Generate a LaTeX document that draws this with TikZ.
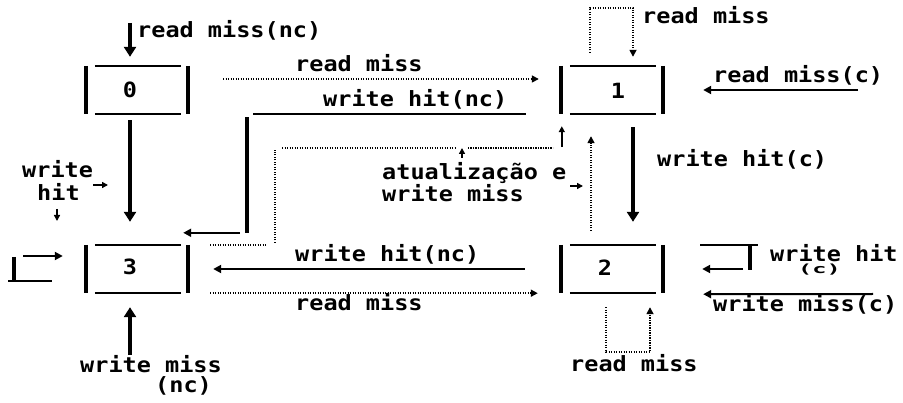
\documentclass[tikz,border=0pt]{standalone}
\usepackage{fontspec}
\newfontfamily\dmono{DejaVu Sans Mono}[FakeStretch=1.12]
\usetikzlibrary{arrows.meta,calc}
\begin{document}
\begin{tikzpicture}[x=1pt,y=-1pt,
 txt/.style={font=\dmono\bfseries\fontsize{21}{25}\selectfont, inner sep=0, anchor=base west},
 num/.style={font=\dmono\bfseries\fontsize{21}{25}\selectfont, inner sep=0},
 state/.style={minimum width=102pt, minimum height=48pt, inner sep=0, draw=none},
 bar/.style={line width=4pt},
 hl/.style={line width=2pt},
 tarrow/.style={line width=4pt, -{Triangle[length=10pt,width=12pt]}},
 narrow/.style={line width=2pt, -{Triangle[length=8pt,width=8pt]}},
 parrow/.style={line width=1.5pt, -{Triangle[length=6pt,width=6pt]}},
 dotl/.style={line width=1.6pt, dash pattern=on 1.2pt off 1.3pt},
 darrow/.style={dotl, -{Triangle[length=7pt,width=7pt]}},
]
\fill[white] (0,0) rectangle (903,403);
\useasboundingbox (0,0) rectangle (903,403);

% states
\node[state] (s0) at (137,90) {};
\node[state] (s1) at (612,90) {};
\node[state] (s3) at (137,269) {};
\node[state] (s2) at (612,269) {};
\foreach \s in {s0,s1,s2,s3}{
  \draw[bar] (\s.north west) -- (\s.south west);
  \draw[bar] (\s.north east) -- (\s.south east);
  \draw[hl] ($(\s.north west)+(9,0)$) -- ($(\s.north east)+(-7,0)$);
  \draw[hl] ($(\s.south west)+(9,0)$) -- ($(\s.south east)+(-7,0)$);
}
\node[num] (n0) at (130,90) {0};
\node[num] (n1) at (618,91) {1};
\node[num] (n3) at (130,267) {3};
\node[num] (n2) at (605,268) {2};

% free ends
\coordinate (inA) at (130,23);
\coordinate (inH) at (858,90);
\coordinate (inN) at (873,294);
\coordinate (inP) at (130,355);

% A: read miss(nc) into 0
\draw[tarrow] (inA) -- ($(s0.north)+(-7,-9)$);
\node[txt] (tA) at (137,38) {read miss(nc)};

% B: 0 -> 1 read miss
\draw[darrow] ($(s0.east)+(35,-11)$) -- ($(s1.west)+(-22,-11)$);
\node[txt] (tB) at (295,72) {read miss};

% C: 1 -> 3 write hit(nc)
\draw[hl] ($(s1.south west)+(-35,0)$) -- ($(s0.south east)+(65,0)$);
\draw[bar] ($(s0.south east)+(59,3)$) -- ($(s3.north east)+(59,-12)$);
\draw[narrow] ($(s3.north east)+(52,-12)$) -- ($(s3.north east)+(-5,-12)$);
\node[txt] (tC) at (323,107) {write hit(nc)};

% D: 3 -> 1 dotted (atualizacao)
\draw[dotl] ($(s3.north east)+(22,0)$) -- ($(s3.north east)+(79,0)$);
\draw[dotl] ($(s3.north east)+(87,-2)$) -- ($(s0.south east)+(87,36)$);
\draw[dotl] ($(s0.south east)+(94,34)$) -- ($(s0.south east)+(267,34)$);
\draw[dotl] ($(s1.south west)+(-93,34)$) -- ($(s1.south west)+(-8,34)$);
\draw[parrow] ($(s1.south west)+(1,33)$) -- ($(s1.south west)+(1,12)$);
\coordinate (pD1a) at (462,158);
\coordinate (pD1b) at (462,148);
\draw[parrow] (pD1a) -- (pD1b);
\node[txt] (tD1) at (382,180) {atualização e};
\node[txt] (tD2) at (382,202) {write miss};

% E: 2 -> 1 dotted
\draw[darrow] ($(s2.north)+(-21,-14)$) -- ($(s1.south)+(-21,22)$);
\coordinate (pE1) at (570,186);
\coordinate (pE2) at (583,186);
\draw[parrow] (pE1) -- (pE2);

% F: 1 -> 2 write hit(c)
\draw[tarrow] ($(s1.south)+(21,13)$) -- ($(s2.north)+(21,-23)$);
\node[txt] (tF) at (657,167) {write hit(c)};

% G: self loop on 1
\draw[darrow] ($(s1.north)+(-22,-13)$) |- ($(s1.north)+(21,-58)$) -- ($(s1.north)+(21,-9)$);
\node[txt] (tG) at (642,24) {read miss};

% H: read miss(c) into 1
\draw[narrow] (inH) -- ($(s1.east)+(40,0)$);
\node[txt] (tH) at (713,83) {read miss(c)};

% I: 0 -> 3 write hit
\draw[tarrow] ($(s0.south)+(-7,6)$) -- ($(s3.north)+(-7,-23)$);
\node[txt] (tI1) at (22,178) {write};
\node[txt] (tI2) at (37,201) {hit};
\coordinate (pI1) at (93,185);
\coordinate (pI2) at (108,185);
\coordinate (pI3) at (57,209);
\coordinate (pI4) at (57,221);
\draw[parrow] (pI1) -- (pI2);
\draw[parrow] (pI3) -- (pI4);

% J: self loop on 3 (left)
\coordinate (jA) at (14,257);
\coordinate (jB) at (14,280);
\coordinate (jC) at (8,281);
\coordinate (jD) at (52,281);
\coordinate (jE) at (23,256);
\draw[bar, line width=3.5pt] (jA) -- (jB);
\draw[hl] (jC) -- (jD);
\draw[narrow] (jE) -- ($(s3.west)+(-23,-13)$);

% K: 2 -> 3 write hit(nc)
\draw[narrow] ($(s2.west)+(-36,0)$) -- ($(s3.east)+(25,0)$);
\node[txt] (tK) at (295,262) {write hit(nc)};

% L: 3 -> 2 read miss
\draw[darrow] ($(s3.south east)+(22,0)$) -- ($(s2.south west)+(-23,0)$);
\node[txt] (tL) at (295,311) {read miss};

% M: self loop on 2 (right)
\draw[hl] ($(s2.north east)+(37,0)$) -- ($(s2.north east)+(95,0)$);
\draw[bar, line width=3.5pt] ($(s2.north east)+(87,0)$) -- ($(s2.north east)+(87,25)$);
\draw[narrow] ($(s2.east)+(80,0)$) -- ($(s2.east)+(39,0)$);
\node[txt] (tM1) at (770,262) {write hit};
\node[txt] (tM2) at (798,274) {\scalebox{1}[0.6]{(c)}};

% N: write miss(c) into 2
\draw[narrow] (inN) -- ($(s2.south east)+(40,1)$);
\node[txt] (tN) at (713,312) {write miss(c)};

% O: self loop on 2 (bottom)
\draw[darrow] ($(s2.south)+(-6,14)$) |- ($(s2.south)+(38,59)$) -- ($(s2.south)+(38,14)$);
\node[txt] (tO) at (570,372) {read miss};

% P: write miss(nc) into 3
\draw[tarrow] (inP) -- ($(s3.south)+(-7,14)$);
\node[txt] (tP1) at (80,373) {write miss};
\node[txt] (tP2) at (155,393) {(nc)};
\end{tikzpicture}
\end{document}
